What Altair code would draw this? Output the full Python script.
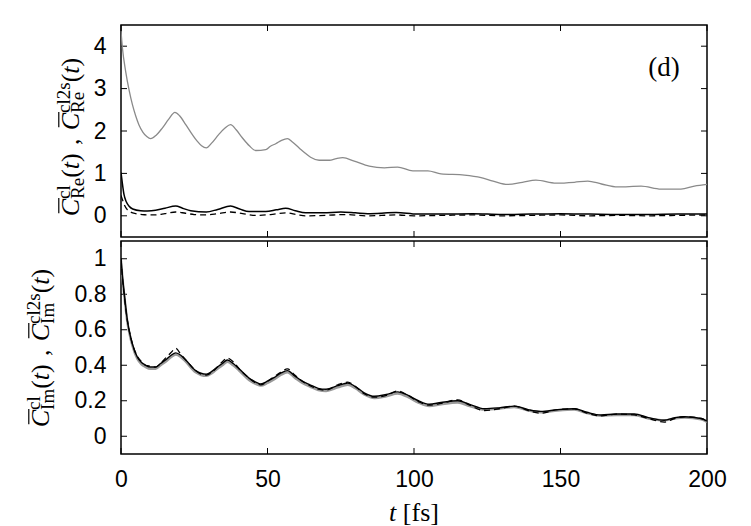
import altair as alt
import pandas as pd

# ---------------- data ----------------
# top panel: real part
t_re_gray = [0, 0.5, 1.6, 2.8, 3.9, 5.0, 6.1, 7.5, 8.8, 10.1, 12.0, 14.1, 16.3, 18.4, 20.0, 22.1, 24.0, 26.0,
             27.5, 29.1, 31.0, 33.4, 35.5, 37.4, 39.3, 41.4, 43.8, 46.0, 49.4, 51.0, 52.8, 54.8, 56.8, 58.5,
             60.8, 62.8, 64.7, 67.6, 71.1, 73.5, 75.7, 79.6, 84.7, 89.9, 94.4, 99.6, 104.7, 109.2, 117.2,
             122.9, 127, 132, 137, 141.6, 148.5, 154.7, 159.3, 164, 169.5, 177.5, 184.3, 191.1, 195.7, 200]
re_gray = [4.35, 3.95, 3.40, 2.95, 2.62, 2.36, 2.15, 1.97, 1.87, 1.82, 1.90, 2.07, 2.28, 2.44, 2.36, 2.15, 1.95,
           1.76, 1.65, 1.60, 1.72, 1.92, 2.07, 2.15, 2.03, 1.84, 1.65, 1.54, 1.56, 1.64, 1.70, 1.78, 1.82, 1.74,
           1.60, 1.48, 1.38, 1.31, 1.31, 1.35, 1.37, 1.29, 1.17, 1.13, 1.15, 1.06, 1.06, 0.99, 0.96, 0.90, 0.82,
           0.74, 0.79, 0.84, 0.77, 0.79, 0.82, 0.75, 0.68, 0.70, 0.63, 0.63, 0.70, 0.74]

t_re_cl = [0, 0.4, 1.0, 1.8, 2.7, 4.0, 6.7, 9.0, 11.8, 15.0, 18.7, 21.0, 23.8, 29.1, 33.0, 37.4, 40.5, 43.7,
           49.4, 53.0, 56.2, 59.5, 63.0, 69, 75, 80, 84.2, 89, 93.9, 101.2, 110, 120, 130, 140, 150, 160, 170,
           180, 190, 200]
re_cl = [1.02, 0.80, 0.51, 0.33, 0.23, 0.16, 0.12, 0.115, 0.13, 0.18, 0.23, 0.18, 0.12, 0.09, 0.15, 0.23, 0.16,
         0.10, 0.10, 0.14, 0.18, 0.12, 0.07, 0.07, 0.09, 0.07, 0.05, 0.06, 0.08, 0.04, 0.04, 0.05, 0.03, 0.04,
         0.05, 0.04, 0.03, 0.03, 0.04, 0.04]

t_re_dash = [0, 0.5, 1.2, 2.2, 3.5, 5.0, 8.0, 11.4, 15.0, 18.7, 22.0, 25.0, 28.4, 33.0, 37.4, 41.5, 46.0, 51.0,
             56.2, 60.0, 63.0, 70, 76, 84, 94, 100, 110, 120, 130, 140, 150, 160, 170, 180, 190, 200]
re_dash = [0.48, 0.38, 0.25, 0.14, 0.08, 0.05, 0.025, 0.02, 0.05, 0.09, 0.06, 0.03, 0.02, 0.05, 0.09, 0.05, 0.01,
           0.03, 0.07, 0.03, 0.00, 0.01, 0.03, 0.00, 0.02, 0.00, 0.01, 0.02, 0.00, 0.01, 0.02, 0.00, 0.01, 0.00,
           0.01, 0.02]

# bottom panel: imaginary part
t_im = [0, 0.5, 1.0, 1.6, 2.2, 3.0, 3.9, 5.6, 7.0, 8.4, 10.0, 11.8, 13.5, 15.2, 17.0, 18.7, 20.5, 22.1, 25.5,
        27.3, 29.1, 31.0, 32.9, 34.6, 36.3, 38.3, 40.3, 44.3, 46.0, 47.7, 50.0, 52.2, 54.5, 56.8, 59.3, 61.9,
        64.5, 67.3, 70.0, 74.0, 77.4, 80.0, 83.0, 86.5, 90.5, 94.4, 98.0, 101.5, 105.2, 109.2, 114.9, 119.0,
        124.0, 129.0, 134.2, 139.0, 143.3, 149.0, 154.7, 159.0, 163.8, 169.0, 175.2, 180.0, 185.4, 189.0,
        192.3, 198.0, 200.0]
im_cl = [1.0, 0.90, 0.82, 0.73, 0.65, 0.58, 0.52, 0.445, 0.415, 0.40, 0.39, 0.39, 0.41, 0.43, 0.455, 0.47, 0.455,
         0.43, 0.37, 0.355, 0.35, 0.365, 0.39, 0.41, 0.43, 0.41, 0.38, 0.32, 0.305, 0.295, 0.31, 0.33, 0.355,
         0.37, 0.34, 0.31, 0.29, 0.27, 0.265, 0.285, 0.30, 0.28, 0.245, 0.225, 0.235, 0.25, 0.23, 0.20, 0.18,
         0.19, 0.20, 0.18, 0.155, 0.16, 0.17, 0.15, 0.14, 0.15, 0.155, 0.135, 0.12, 0.125, 0.125, 0.105, 0.09,
         0.105, 0.11, 0.10, 0.085]
im_gray = [0.99, 0.89, 0.81, 0.72, 0.64, 0.57, 0.51, 0.435, 0.405, 0.39, 0.38, 0.38, 0.40, 0.42, 0.445, 0.46,
           0.445, 0.42, 0.36, 0.345, 0.34, 0.355, 0.38, 0.40, 0.42, 0.40, 0.37, 0.31, 0.295, 0.285, 0.30, 0.32,
           0.345, 0.36, 0.33, 0.30, 0.28, 0.26, 0.255, 0.275, 0.29, 0.27, 0.235, 0.215, 0.225, 0.24, 0.22, 0.19,
           0.17, 0.18, 0.19, 0.17, 0.15, 0.155, 0.165, 0.145, 0.135, 0.145, 0.15, 0.13, 0.115, 0.12, 0.12, 0.10,
           0.09, 0.10, 0.105, 0.095, 0.08]
im_dash = [1.0, 0.89, 0.81, 0.72, 0.65, 0.58, 0.52, 0.45, 0.42, 0.40, 0.395, 0.39, 0.41, 0.44, 0.47, 0.495,
           0.46, 0.43, 0.37, 0.35, 0.345, 0.36, 0.39, 0.42, 0.44, 0.42, 0.38, 0.32, 0.30, 0.29, 0.31, 0.335, 0.36,
           0.38, 0.345, 0.31, 0.285, 0.265, 0.26, 0.29, 0.305, 0.28, 0.24, 0.22, 0.23, 0.255, 0.23, 0.195, 0.175,
           0.185, 0.205, 0.175, 0.145, 0.155, 0.17, 0.145, 0.13, 0.15, 0.155, 0.13, 0.115, 0.125, 0.12, 0.10,
           0.08, 0.10, 0.11, 0.10, 0.085]

x_ticks = [0, 50, 100, 150, 200]
re_ticks = [0, 1, 2, 3, 4]
im_ticks = [0, 0.2, 0.4, 0.6, 0.8, 1.0]

# ---------------- layout constants ----------------
W, H1, H2 = 586, 212, 213
TICK = 6
SERIF = "Liberation Serif"
SANS = "Liberation Sans"
LBL = 23

xscale = alt.Scale(domain=[0, 200], nice=False, zero=False)
y_re = alt.Scale(domain=[-0.5, 4.5], nice=False, zero=False)
y_im = alt.Scale(domain=[-0.1, 1.1], nice=False, zero=False)

ONE = pd.DataFrame({"a": [0]})


def mk_axis(values, padding, fmt=None):
    kw = dict(values=values, ticks=False, domain=False, grid=False, labelFont=SANS,
              labelFontSize=LBL, labelColor="black", labelPadding=padding, labelFlush=False,
              labelOverlap=False, title=None)
    if fmt:
        kw["format"] = fmt
    return alt.Axis(**kw)


def line(t, v, xax, yscale, yax, color, width, dash=None):
    kw = dict(color=color, strokeWidth=width, clip=True, interpolate="monotone")
    if dash:
        kw["strokeDash"] = dash
    df = pd.DataFrame({"t": t, "v": v})
    return alt.Chart(df).mark_line(**kw).encode(
        x=alt.X("t:Q", scale=xscale, axis=xax),
        y=alt.Y("v:Q", scale=yscale, axis=yax),
    )


def ticks(yvals, yscale, h, xax, yax):
    xt = pd.DataFrame({"t": x_ticks})
    yt = pd.DataFrame({"v": yvals})
    top = alt.Chart(xt).mark_rule(color="black", strokeWidth=1).encode(
        x=alt.X("t:Q", scale=xscale, axis=xax), y=alt.value(0), y2=alt.value(TICK))
    bot = alt.Chart(xt).mark_rule(color="black", strokeWidth=1).encode(
        x=alt.X("t:Q", scale=xscale, axis=xax), y=alt.value(h - TICK), y2=alt.value(h))
    left = alt.Chart(yt).mark_rule(color="black", strokeWidth=1).encode(
        y=alt.Y("v:Q", scale=yscale, axis=yax), x=alt.value(0), x2=alt.value(TICK))
    right = alt.Chart(yt).mark_rule(color="black", strokeWidth=1).encode(
        y=alt.Y("v:Q", scale=yscale, axis=yax), x=alt.value(W - TICK), x2=alt.value(W))
    return [top, bot, left, right]


def txt(s, x, y, size, italic=False, angle=270):
    kw = dict(text=s, align="left", baseline="alphabetic", font=SERIF, fontSize=size,
              color="black")
    if angle:
        kw["angle"] = angle
    if italic:
        kw["fontStyle"] = "italic"
    return alt.Chart(ONE).mark_text(**kw).encode(x=alt.value(x), y=alt.value(y))


# Times metrics (per em) for laying out the composed axis titles
ROMAN = {"R": .667, "e": .444, "c": .444, "l": .278, "2": .5, "s": .389, "I": .333, "m": .778,
         "(": .333, ")": .333, ",": .25, " ": .25, "[": .333, "]": .333, "f": .333, "d": .5}
ITAL = {"C": .667, "t": .278}


def wid(s, size, table=ROMAN):
    return sum(table[c] for c in s) * size


def ytitle(sub, center, base, f=26, s=19, rise=9, drop=5, gap=23):
    """Rotated title  C̄^cl_sub(t) , C̄^cl2s_sub(t)  built from pieces."""
    segs = [("cl", sub), ("cl2s", sub)]
    lens = []
    for sup, sb in segs:
        lens.append(wid("C", f, ITAL) + max(wid(sup, s), wid(sb, s)) + wid("(", f) + wid("t", f, ITAL) + wid(")", f))
    total = lens[0] + gap + lens[1]
    start = center + total / 2
    out = []
    pos = start
    for i, (sup, sb) in enumerate(segs):
        p = pos
        out.append(txt("C", base, p, f, italic=True))
        bar_x = base - 0.662 * f - 3
        out.append(alt.Chart(ONE).mark_rule(color="black", strokeWidth=1.2).encode(
            x=alt.value(bar_x), y=alt.value(p - 3), y2=alt.value(p - wid("C", f, ITAL) - 1)))
        p -= wid("C", f, ITAL)
        out.append(txt(sup, base - rise, p, s))
        out.append(txt(sb, base + drop, p, s))
        p -= max(wid(sup, s), wid(sb, s))
        out.append(txt("(", base, p, f))
        p -= wid("(", f)
        out.append(txt("t", base, p, f, italic=True))
        p -= wid("t", f, ITAL)
        out.append(txt(")", base, p, f))
        if i == 0:
            cpos = pos - lens[0] - gap / 2 + wid(",", f) / 2
            out.append(txt(",", base, cpos, f))
            pos = pos - lens[0] - gap
    return out


re_axis = mk_axis(re_ticks, 15)
im_axis = mk_axis(im_ticks, 15, "~g")
x_axis = mk_axis(x_ticks, 14)

# invisible marker fixing the drawing origin (left/top extent)
anchor = alt.Chart(ONE).mark_rule(opacity=0, strokeOpacity=0).encode(
    x=alt.value(-112), x2=alt.value(-111), y=alt.value(-16), y2=alt.value(-15))

XF = 26
DF = 27
x_start = 293 - (wid("t", XF, ITAL) + wid(" [fs]", XF)) / 2
top_layers = (
    ticks(re_ticks, y_re, H1, None, re_axis)
    + [line(t_re_gray, re_gray, None, y_re, re_axis, "#8a8a8a", 1.3),
       line(t_re_dash, re_dash, None, y_re, re_axis, "black", 1.3, [6, 4]),
       line(t_re_cl, re_cl, None, y_re, re_axis, "black", 1.5),
       txt("(d)", 543 - wid("(d)", DF) / 2, 51, DF, angle=0),
       anchor]
    + ytitle("Re", 136 - 24, 78 - 120)
)
top = alt.layer(*top_layers).properties(width=W, height=H1)

bottom_layers = (
    ticks(im_ticks, y_im, H2, x_axis, im_axis)
    + [line(t_im, im_gray, x_axis, y_im, im_axis, "#9a9a9a", 2.4),
       line(t_im, im_dash, x_axis, y_im, im_axis, "black", 1.3, [6, 4]),
       line(t_im, im_cl, x_axis, y_im, im_axis, "black", 1.4),
       txt("t", x_start, 280, XF, italic=True, angle=0),
       txt("[fs]", x_start + wid("t", XF, ITAL) + wid(" ", XF), 280, XF, angle=0)]
    + ytitle("Im", 343 - 236, 48 - 120)
)
bottom = alt.layer(*bottom_layers).properties(width=W, height=H2)

chart = alt.vconcat(top, bottom, spacing=0, padding=0, background="white").configure_view(
    stroke="black", strokeWidth=1.5
)

chart.save("out.html", embed_options={"renderer": "svg", "actions": False})
